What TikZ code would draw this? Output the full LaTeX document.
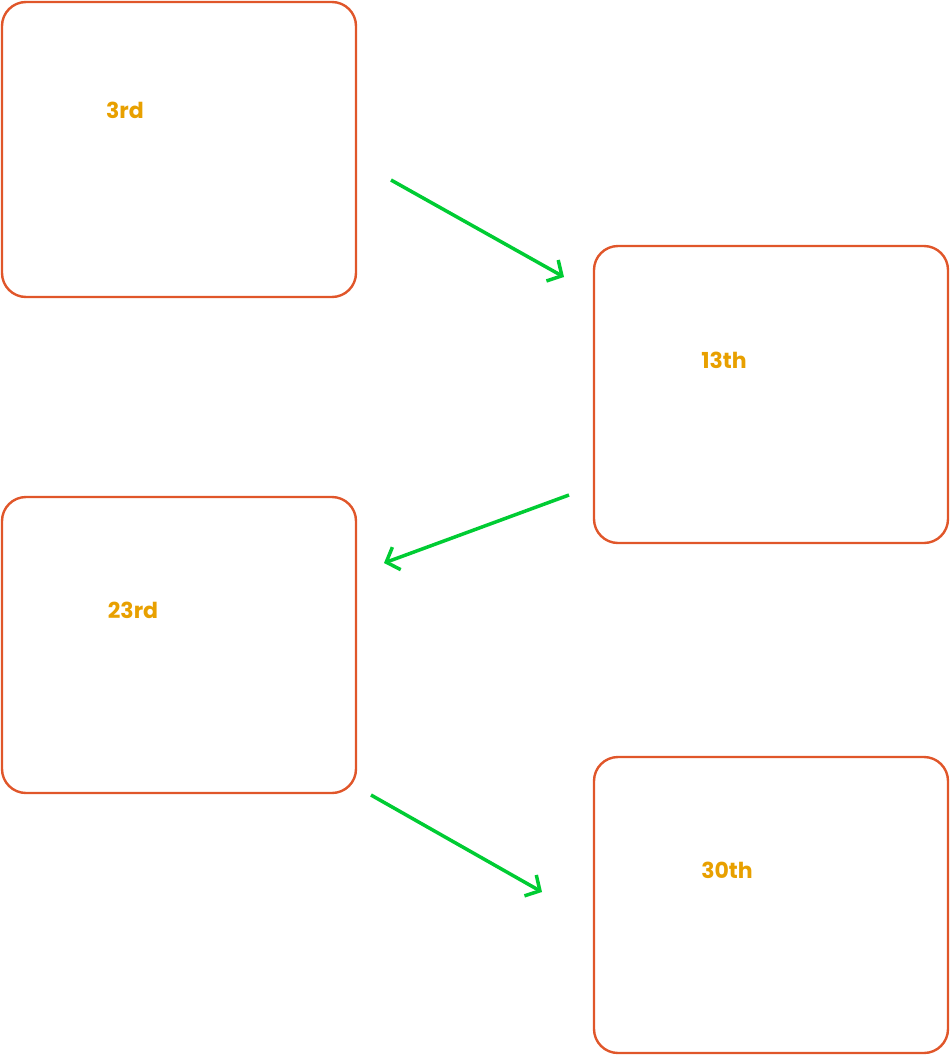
\documentclass[tikz,border=0pt]{standalone}
\usepackage{fontspec}
\setmainfont{Poppins}
\usetikzlibrary{arrows.meta}
\definecolor{boxc}{HTML}{E0562A}
\definecolor{txtc}{HTML}{E8A000}
\definecolor{arrc}{HTML}{00CC33}
\begin{document}
\begin{tikzpicture}[x=1pt,y=-1pt,
 box/.style={draw=boxc,line width=2.4pt,rounded corners=24pt},
 lab/.style={text=txtc,font=\fontsize{22}{26}\selectfont\bfseries},
 arr/.style={draw=arrc,line width=3.5pt,-{Straight Barb[length=11pt,width=24pt,line width=3.5pt]}}]
\useasboundingbox (0,0) rectangle (950,1055);
\draw[box] (2,2) rectangle (356,297);
\draw[box] (594,246) rectangle (948,543);
\draw[box] (2,497) rectangle (356,793);
\draw[box] (594,757) rectangle (948,1053);
\node[lab] (t1) at (125,110) {3rd};
\node[lab] (t2) at (724,360) {13th};
\node[lab] (t3) at (133,610) {23rd};
\node[lab] (t4) at (727,870) {30th};
\coordinate (a1) at (391,180); \coordinate (b1) at (564,277);
\coordinate (a2) at (569,495); \coordinate (b2) at (384,563);
\coordinate (a3) at (371,795); \coordinate (b3) at (542,892);
\draw[arr] (a1) -- (b1);
\draw[arr] (a2) -- (b2);
\draw[arr] (a3) -- (b3);
\end{tikzpicture}
\end{document}
